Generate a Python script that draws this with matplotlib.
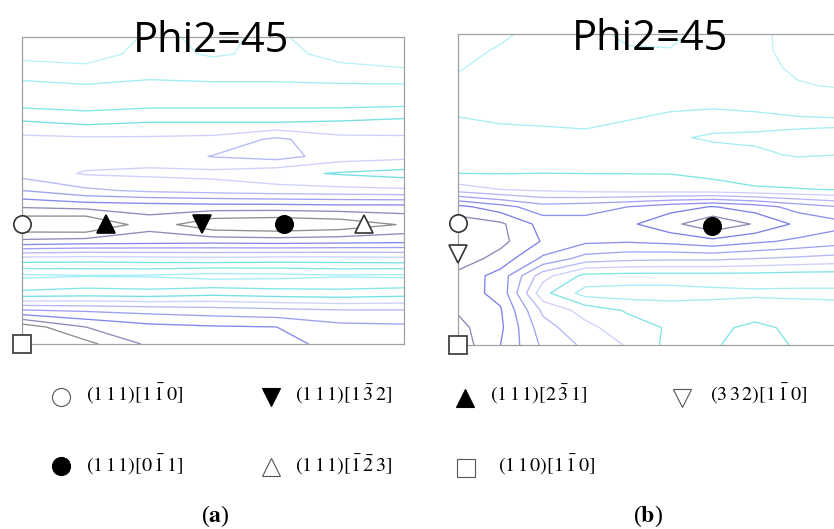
import numpy as np
import matplotlib
matplotlib.use('Agg')
import matplotlib.pyplot as plt

plt.rcParams['mathtext.fontset'] = 'stix'

# Dados: secoes ODF phi2=45 (intensidade, grade de 5 graus em Phi)
Phi = [0, 5, 10, 15, 20, 25, 30, 35, 40, 45, 50, 55, 60, 65, 70, 75, 80, 85, 90]

phi1_a = [0, 15, 30, 45, 60, 75, 90]
f_a = [
    [0.3, 0.5, 1.1, 0.9, 1.1, 0.6, 0.4],
    [0.7, 0.6, 1.3, 0.9, 1.2, 0.8, 0.6],
    [1.5, 1.3, 1.6, 1.5, 1.5, 1.2, 1.1],
    [2.4, 2.2, 2.4, 2.3, 2.3, 2.3, 2.3],
    [2.8, 2.6, 2.8, 2.8, 2.8, 2.8, 2.9],
    [4.1, 3.8, 4.0, 4.0, 4.0, 4.1, 4.3],
    [5.3, 5.2, 5.2, 5.3, 6.2, 5.3, 5.2],
    [5.6, 5.5, 5.4, 6.05, 6.4, 5.5, 5.3],
    [5.6, 4.9, 4.8, 4.7, 4.3, 3.9, 3.6],
    [7.0, 6.2, 5.8, 5.6, 5.4, 5.3, 5.2],
    [9.0, 8.8, 8.7, 8.6, 8.6, 8.5, 8.5],
    [11.0, 11.2, 9.4, 10.8, 11.0, 10.7, 9.9],
    [8.7, 8.5, 8.4, 8.3, 8.4, 8.3, 8.2],
    [4.6, 4.5, 4.6, 4.7, 4.6, 4.6, 4.7],
    [1.8, 1.95, 1.9, 1.6, 1.7, 1.9, 1.8],
    [3.2, 3.4, 3.3, 3.6, 3.4, 3.3, 3.5],
    [7.0, 6.8, 6.6, 6.4, 6.2, 6.0, 6.0],
    [10.6, 9.0, 8.3, 8.1, 8.0, 7.3, 7.2],
    [12.0, 10.3, 8.8, 8.6, 8.4, 7.6, 7.4],
]

phi1_b = [0, 10, 20, 30, 40, 50, 60, 70, 80, 90]
f_b = [
    [0.5, 0.85, 1.3, 1.3, 0.8, 0.8, 1.3, 1.2, 0.7, 0.6],
    [0.75, 1.1, 1.4, 1.4, 1.1, 1.05, 1.4, 1.15, 0.8, 0.75],
    [0.95, 1.3, 1.5, 1.5, 1.3, 1.3, 1.5, 1.2, 0.9, 0.85],
    [1.2, 1.45, 1.55, 1.5, 1.55, 1.6, 1.7, 1.4, 1.05, 0.95],
    [1.6, 1.6, 1.6, 1.5, 1.7, 1.8, 1.85, 1.8, 1.5, 1.4],
    [2.1, 1.9, 1.85, 1.8, 2.0, 2.2, 2.3, 2.2, 2.15, 2.1],
    [2.5, 2.4, 2.3, 2.2, 2.3, 2.1, 1.9, 1.9, 1.85, 1.85],
    [2.7, 2.6, 2.6, 2.6, 2.6, 2.45, 2.3, 2.1, 1.95, 2.0],
    [2.9, 2.9, 2.95, 2.95, 2.95, 2.95, 2.8, 2.6, 2.4, 2.3],
    [4.5, 4.0, 3.8, 3.6, 3.5, 3.4, 3.3, 3.1, 3.05, 2.95],
    [8.3, 7.4, 6.4, 6.6, 7.0, 7.6, 8.05, 7.5, 6.6, 6.0],
    [9.6, 9.2, 7.6, 7.4, 7.8, 8.7, 9.8, 8.9, 7.8, 7.3],
    [9.8, 9.3, 7.9, 7.2, 7.1, 7.3, 7.7, 7.2, 6.8, 6.4],
    [9.6, 8.6, 6.8, 5.6, 5.3, 5.2, 5.2, 5.0, 4.8, 4.6],
    [8.7, 7.6, 4.4, 2.7, 2.6, 2.6, 2.6, 2.6, 2.5, 2.5],
    [8.5, 7.7, 3.3, 1.6, 1.5, 1.5, 1.7, 1.8, 1.8, 1.8],
    [8.9, 8.1, 4.8, 3.6, 2.9, 2.6, 2.5, 2.6, 2.4, 2.3],
    [9.3, 8.2, 5.4, 4.3, 3.4, 2.9, 2.8, 3.2, 2.8, 2.5],
    [9.6, 8.0, 5.8, 4.8, 3.9, 2.7, 2.9, 3.4, 2.9, 2.5],
]

levels_a = [1, 2, 3, 4, 5, 6, 7, 8, 9, 10]
levels_b = [1, 2, 3, 4, 5, 6, 7, 8, 9]

# Componentes de textura (phi1, Phi)
comp_a_phi1 = [0, 19.8, 42.4, 61.7, 80.6, 0]
comp_a_Phi = [54.7, 54.7, 54.7, 54.7, 54.7, 90]
comp_a_mk = ['o', '^', 'v', 'o', '^', 's']
comp_a_fill = [False, True, True, True, False, False]

comp_b_phi1 = [0, 0, 59.8, 0]
comp_b_Phi = [54.6, 63.6, 55.7, 90]
comp_b_mk = ['o', 'v', 'o', 's']
comp_b_fill = [False, False, True, False]

# Legenda
leg_mk = ['o', 'v', '^', 'v', 'o', '^', 's']
leg_fill = [False, True, True, False, True, False, False]
leg_lab = [r'$(1\,1\,1)[1\,\bar{1}\,0]$',
           r'$(1\,1\,1)[1\,\bar{3}\,2]$',
           r'$(1\,1\,1)[2\,\bar{3}\,1]$',
           r'$(3\,3\,2)[1\,\bar{1}\,0]$',
           r'$(1\,1\,1)[0\,\bar{1}\,1]$',
           r'$(1\,1\,1)[\bar{1}\,\bar{2}\,3]$',
           r'$(1\,1\,0)[1\,\bar{1}\,0]$']

#-------------------------------------------------------------------#
W, H = 834, 529
fig = plt.figure(figsize=(W / 100, H / 100), dpi=100)

cols_a = ['#b8f2f8', '#9eeef4', '#80e6e8', '#74e0e2', '#ccd0fc',
          '#b4b8f6', '#9ca0f0', '#8488ea', '#8c8cb8', '#8e8e8e']
cols_b = ['#b8f2f8', '#a6eef6', '#7ee4e6', '#ccd0fc', '#b4b8f6',
          '#a0a4f2', '#8c90ec', '#7c80e6', '#8a8ab4']


def px_axes(l, t, r, b):
    return fig.add_axes([l / W, 1 - b / H, (r - l) / W, (b - t) / H])


ax_a = px_axes(22, 37, 404, 344)
ax_b = px_axes(458, 34, 840, 345)

panels = [(ax_a, phi1_a, f_a, levels_a, cols_a, comp_a_phi1, comp_a_Phi, comp_a_mk, comp_a_fill),
          (ax_b, phi1_b, f_b, levels_b, cols_b, comp_b_phi1, comp_b_Phi, comp_b_mk, comp_b_fill)]

for ax, p1, f, lev, cols, cx, cy, cm, cf in panels:
    ax.contour(p1, Phi, np.array(f), levels=lev, colors=cols, linewidths=0.95)
    for x, y, m, fill in zip(cx, cy, cm, cf):
        ax.plot(x, y, ls='none', marker=m, ms=12.5,
                mfc='black' if fill else 'white',
                mec='black' if fill else '#333333', mew=1.2,
                clip_on=False, zorder=5)
    ax.set_xlim(0, 90)
    ax.set_ylim(90, 0)
    ax.set_xticks([])
    ax.set_yticks([])
    for s in ax.spines.values():
        s.set_color('#a0a0a0')
        s.set_linewidth(0.9)

# Titulos
fig.text(211 / W, 1 - 52 / H, 'Phi2=45', ha='center', va='baseline',
         fontsize=30, family='Open Sans', zorder=10)
fig.text(650 / W, 1 - 50 / H, 'Phi2=45', ha='center', va='baseline',
         fontsize=30, family='Open Sans', zorder=10)

# Legenda (posicoes em pixels)
leg_mx = [61, 271, 465, 682, 61, 271, 466]
leg_my = [397, 397, 398, 398, 466, 467, 468]
leg_tx = [86, 295, 490, 710, 86, 295, 498]
leg_ty = [401, 401, 401, 401, 472, 472, 472]
lax = fig.add_axes([0, 0, 1, 1])
lax.set_xlim(0, W)
lax.set_ylim(H, 0)
lax.axis('off')
for m, fill, lab, mx, my, tx, ty in zip(leg_mk, leg_fill, leg_lab, leg_mx, leg_my, leg_tx, leg_ty):
    lax.plot(mx, my, ls='none', marker=m, ms=13,
             mfc='black' if fill else 'white',
             mec='black' if fill else '#555555', mew=0.8)
    lax.text(tx, ty, lab, va='baseline', ha='left', fontsize=14.5)

# Legendas (a) e (b)
fig.text(215 / W, 1 - 522 / H, r'($\mathbf{a}$)', ha='center', va='baseline',
         fontsize=17, family='Liberation Serif')
fig.text(648 / W, 1 - 522 / H, r'($\mathbf{b}$)', ha='center', va='baseline',
         fontsize=17, family='Liberation Serif')

fig.savefig('out.png', dpi=100)
